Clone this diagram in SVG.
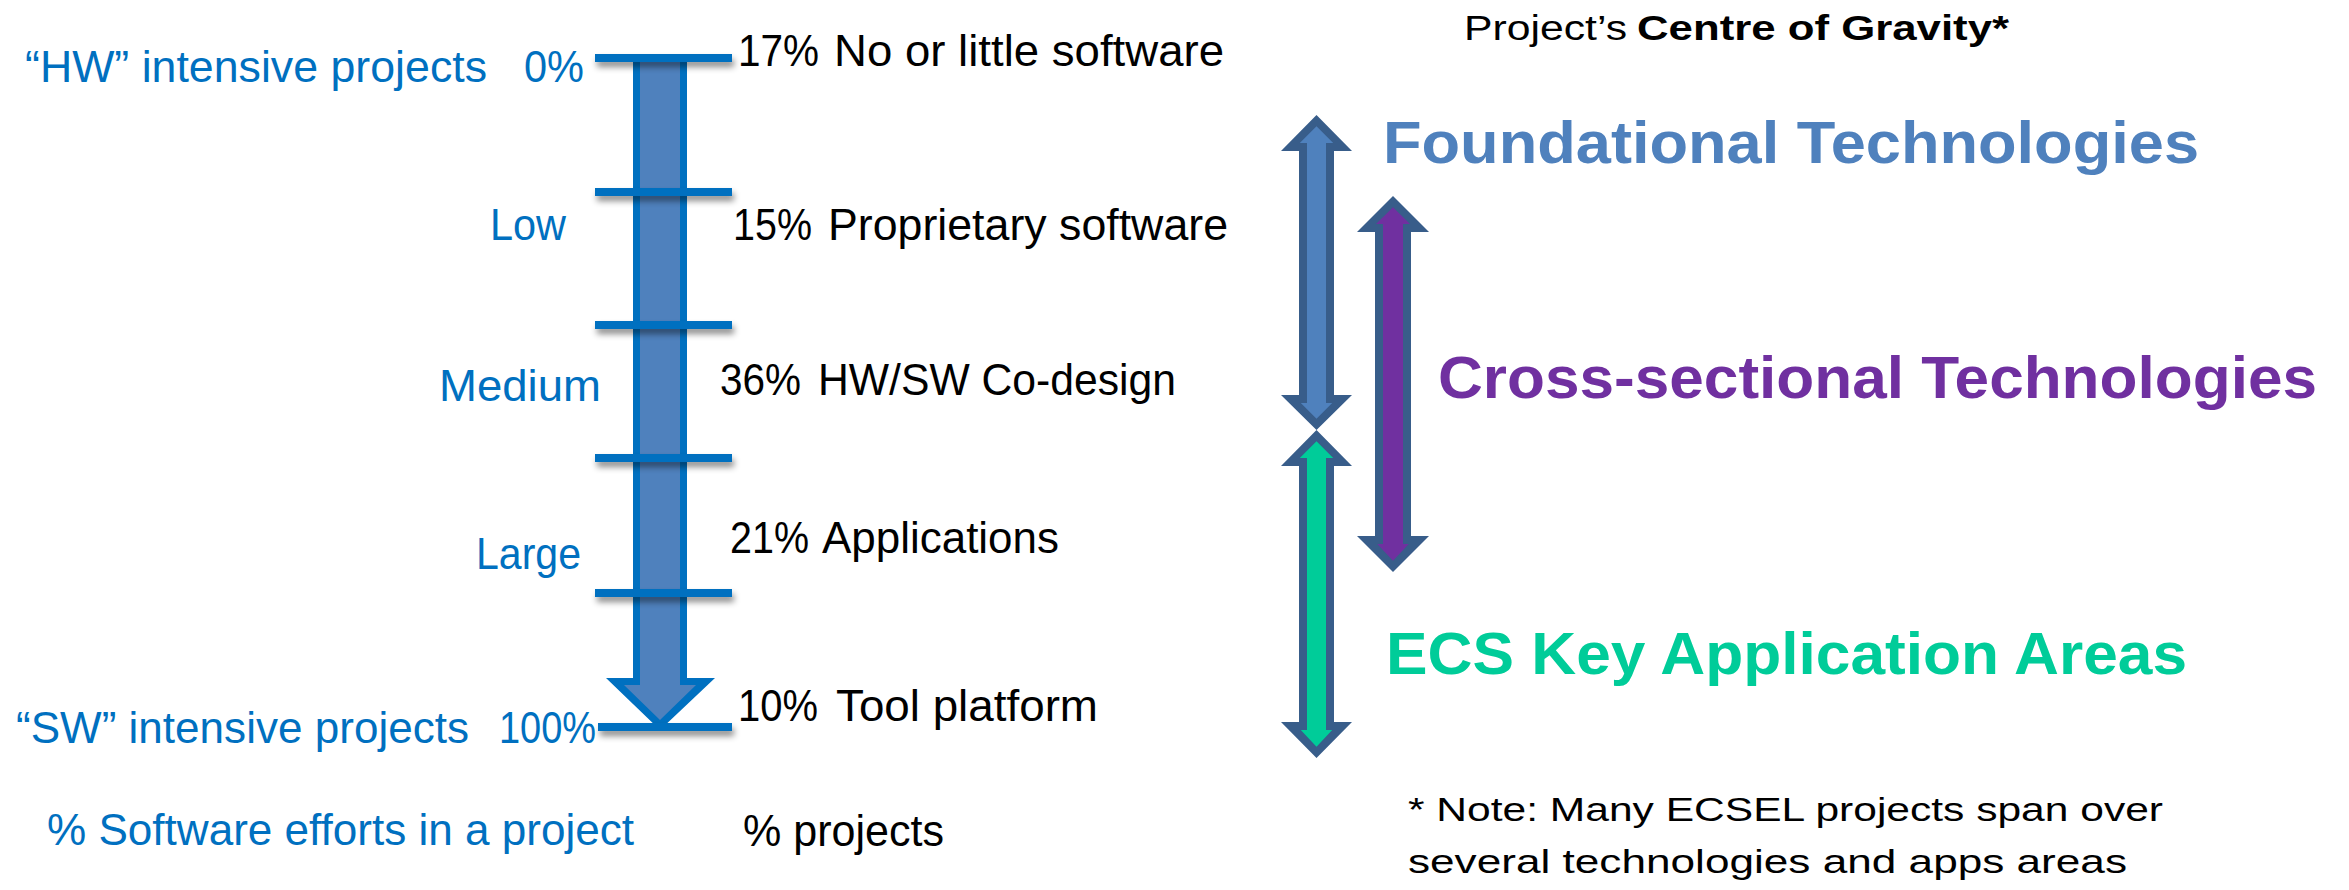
<svg xmlns="http://www.w3.org/2000/svg" width="2349" height="890" viewBox="0 0 2349 890">
  <defs>
    <filter id="tickShadow" x="-10%" y="-200%" width="120%" height="500%">
      <feDropShadow dx="2" dy="5" stdDeviation="3" flood-color="#000" flood-opacity="0.45"/>
    </filter>
  </defs>
  <style>
    .blue { font-family: "Liberation Sans", Arial, sans-serif; font-size: 44px; fill: #0070c0; }
    .black { font-family: "Liberation Sans", Arial, sans-serif; font-size: 44px; fill: #000; }
    .hdr { font-family: "Liberation Sans", Arial, sans-serif; font-size: 35px; fill: #000; }
    .note { font-family: "Liberation Sans", Arial, sans-serif; font-size: 33px; fill: #000; }
    .title { font-family: "Liberation Sans", Arial, sans-serif; font-size: 59px; font-weight: bold; }
    .tick { stroke: #0070c0; stroke-width: 8; fill: none; }
    .edge { fill: #385d8a; }
  </style>

  <!-- software-effort scale: arrow and tick marks -->
  <g id="connectors">
    <g id="scale-arrow">
      <path fill="#0070c0" d="M633,56 L687,56 L687,678 L715,678 L660,730 L606,678 L633,678 Z"/>
      <path fill="#4f81bd" d="M640,56 L680,56 L680,685 L696,685 L660,720 L624,685 L640,685 Z"/>
    </g>
    <g id="ticks" filter="url(#tickShadow)">
      <line class="tick" x1="595" y1="58" x2="732" y2="58"/>
      <line class="tick" x1="595" y1="192" x2="732" y2="192"/>
      <line class="tick" x1="595" y1="325" x2="732" y2="325"/>
      <line class="tick" x1="595" y1="458" x2="732" y2="458"/>
      <line class="tick" x1="595" y1="593" x2="732" y2="593"/>
      <line class="tick" x1="598" y1="727" x2="732" y2="727"/>
    </g>

    <!-- double arrows showing the project's centre of gravity -->
    <g id="arrow-foundational">
      <path class="edge" d="M1316.5,115 L1352,151 L1334,151 L1334,395 L1352,395 L1316.5,430 L1281,395 L1299,395 L1299,151 L1281,151 Z"/>
      <path fill="#4f81bd" d="M1316.5,126.3 L1333.2,143 L1326,143 L1326,403 L1332.2,403 L1316.5,418.7 L1300.8,403 L1307,403 L1307,143 L1299.8,143 Z"/>
    </g>
    <g id="arrow-applications">
      <path class="edge" d="M1316.5,430 L1352,466 L1334,466 L1334,722 L1352,722 L1316.5,758 L1281,722 L1299,722 L1299,466 L1281,466 Z"/>
      <path fill="#00cc99" d="M1316.5,441.3 L1333.2,458 L1326,458 L1326,730 L1332.2,730 L1316.5,746.7 L1300.8,730 L1307,730 L1307,458 L1299.8,458 Z"/>
    </g>
    <g id="arrow-cross">
      <path class="edge" d="M1393,196 L1429,232 L1411,232 L1411,536 L1429,536 L1393,572 L1357,536 L1375,536 L1375,232 L1357,232 Z"/>
      <path fill="#7030a0" d="M1393,207.3 L1410,224 L1403,224 L1403,544 L1408.7,544 L1393,560.7 L1377.3,544 L1383,544 L1383,224 L1376,224 Z"/>
    </g>
  </g>

  <!-- left axis labels -->
  <g id="axis-labels">
    <text class="blue" x="25" y="82" textLength="462" lengthAdjust="spacingAndGlyphs">“HW” intensive projects</text>
    <text class="blue" x="524" y="82" textLength="60" lengthAdjust="spacingAndGlyphs">0%</text>
    <text class="blue" x="490" y="240" textLength="76" lengthAdjust="spacingAndGlyphs">Low</text>
    <text class="blue" x="439" y="401" textLength="162" lengthAdjust="spacingAndGlyphs">Medium</text>
    <text class="blue" x="476" y="569" textLength="105" lengthAdjust="spacingAndGlyphs">Large</text>
    <text class="blue" x="16" y="743" textLength="453" lengthAdjust="spacingAndGlyphs">“SW” intensive projects</text>
    <text class="blue" x="499" y="743" textLength="97" lengthAdjust="spacingAndGlyphs">100%</text>
    <text class="blue" x="47" y="845" textLength="587" lengthAdjust="spacingAndGlyphs">% Software efforts in a project</text>
  </g>

  <!-- share of projects per category -->
  <g id="category-labels">
    <text class="black" x="738" y="66" textLength="81" lengthAdjust="spacingAndGlyphs">17%</text>
    <text class="black" x="834" y="66" textLength="390" lengthAdjust="spacingAndGlyphs">No or little software</text>
    <text class="black" x="733" y="240" textLength="79" lengthAdjust="spacingAndGlyphs">15%</text>
    <text class="black" x="828" y="240" textLength="400" lengthAdjust="spacingAndGlyphs">Proprietary software</text>
    <text class="black" x="720" y="395" textLength="81" lengthAdjust="spacingAndGlyphs">36%</text>
    <text class="black" x="818" y="395" textLength="358" lengthAdjust="spacingAndGlyphs">HW/SW Co-design</text>
    <text class="black" x="730" y="553" textLength="79" lengthAdjust="spacingAndGlyphs">21%</text>
    <text class="black" x="822" y="553" textLength="237" lengthAdjust="spacingAndGlyphs">Applications</text>
    <text class="black" x="738" y="721" textLength="80" lengthAdjust="spacingAndGlyphs">10%</text>
    <text class="black" x="836" y="721" textLength="262" lengthAdjust="spacingAndGlyphs">Tool platform</text>
    <text class="black" x="743" y="846" textLength="201" lengthAdjust="spacingAndGlyphs">% projects</text>
  </g>

  <!-- centre of gravity heading -->
  <g id="gravity-heading">
    <text class="hdr" x="1464" y="40" textLength="163" lengthAdjust="spacingAndGlyphs">Project’s</text>
    <text class="hdr" x="1637" y="40" font-weight="bold" textLength="372" lengthAdjust="spacingAndGlyphs">Centre of Gravity*</text>
  </g>

  <g id="node-foundational">
    <text class="title" x="1383" y="163" fill="#4f81bd" textLength="816" lengthAdjust="spacingAndGlyphs">Foundational Technologies</text>
  </g>
  <g id="node-cross">
    <text class="title" x="1438" y="398" fill="#7030a0" textLength="879" lengthAdjust="spacingAndGlyphs">Cross-sectional Technologies</text>
  </g>
  <g id="node-applications">
    <text class="title" x="1386" y="674" fill="#00cc99" textLength="801" lengthAdjust="spacingAndGlyphs">ECS Key Application Areas</text>
  </g>

  <g id="footnote">
    <text class="note" x="1408" y="821" textLength="755" lengthAdjust="spacingAndGlyphs">* Note: Many ECSEL projects span over</text>
    <text class="note" x="1408" y="873" textLength="719" lengthAdjust="spacingAndGlyphs">several technologies and apps areas</text>
  </g>
</svg>
